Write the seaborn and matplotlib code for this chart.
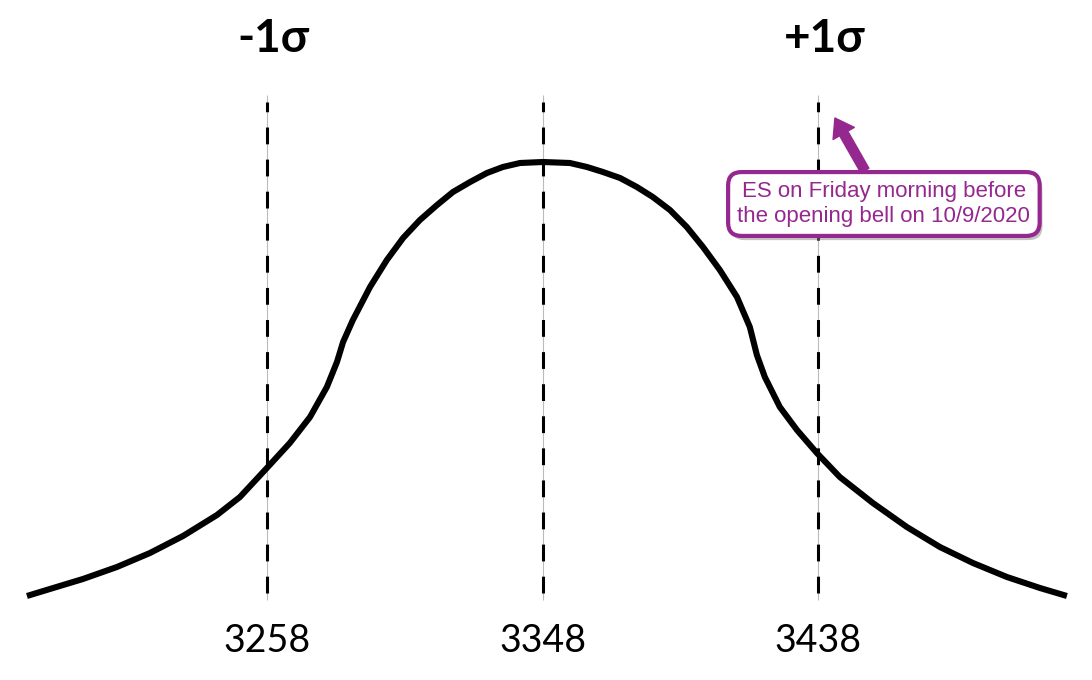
import numpy as np
import pandas as pd
import seaborn as sns
import matplotlib.pyplot as plt
import matplotlib.patheffects as pe

# curve (price vs relative height)
curve_x = [3179.4, 3186.9, 3197.7, 3208.8, 3219.6, 3230.4, 3241.5, 3249.0, 3257.8,
           3265.3, 3271.9, 3277.4, 3280.7, 3282.7, 3285.9, 3291.5, 3297.0, 3302.3,
           3307.8, 3313.4, 3318.6, 3324.2, 3329.7, 3334.9, 3340.5, 3348.0, 3356.8,
           3362.4, 3367.6, 3373.2, 3378.7, 3383.9, 3389.5, 3395.0, 3400.3, 3405.8,
           3411.4, 3415.6, 3417.9, 3420.5, 3425.4, 3431.0, 3437.5, 3445.0, 3455.8,
           3466.9, 3477.7, 3488.5, 3499.6, 3510.4, 3519.2]
curve_y = [4, 11, 21, 33, 47, 64, 85, 103, 132,
           157, 183, 213, 238, 258, 280, 313, 340, 362,
           380, 395, 408, 418, 427, 433, 437, 438, 437,
           433, 428, 422, 413, 403, 390, 373, 353, 330,
           303, 273, 245, 223, 193, 170, 147, 123, 97,
           73, 53, 37, 23, 12, 4]

sigma_x = [3258, 3348, 3438]
sigma_ticks = ["3258", "3348", "3438"]
sigma_names = {3258: "-1σ", 3438: "+1σ"}

note = "ES on Friday morning before\nthe opening bell on 10/9/2020"
note_at = (3443.4, 482)
note_box = (3459.4, 396)
purple = "#95288F"

sns.set_theme(style="white")
plt.rcParams['font.family'] = ['Lato', 'DejaVu Sans']
plt.rcParams['text.color'] = 'black'

df = pd.DataFrame({"price": curve_x, "height": curve_y})

fig = plt.figure(figsize=(10.92, 6.8), dpi=100)
ax = fig.add_axes([0, 0, 1, 1])

# sigma lines: thin grey line with black dashes on top
ax.vlines(sigma_x, 0, 505, color="#bbbbbb", lw=0.8, zorder=1)
ax.vlines(sigma_x, 7, 498, color="black", lw=2.2, linestyles=(0, (5.5, 5)), zorder=2)

sns.lineplot(data=df, x="price", y="height", color="black", lw=4.4, sort=False,
             ax=ax, zorder=3, solid_joinstyle="round", solid_capstyle="butt")

# labels
for x, lab in zip(sigma_x, sigma_ticks):
    ax.text(x, -41, lab, ha="center", va="center", fontsize=27, color="black")
for x, lab in sigma_names.items():
    ax.text(x + 2, 561, lab, ha="center", va="center", fontsize=33,
            fontweight="bold", color="black")

ann = ax.annotate(note, xy=note_at, xytext=note_box, ha="center", va="center",
                  fontsize=16, color=purple, family=['Liberation Sans', 'DejaVu Sans'],
                  linespacing=1.2,
                  bbox=dict(boxstyle="round,pad=0.42,rounding_size=0.6", fc="white",
                            ec=purple, lw=3),
                  arrowprops=dict(arrowstyle="simple,head_length=0.8,head_width=1.1,tail_width=0.42",
                                  color=purple, shrinkA=0, shrinkB=0))
ann.get_bbox_patch().set_path_effects([
    pe.SimplePatchShadow(offset=(2, -3), shadow_rgbFace="#888888", alpha=0.5),
    pe.Normal()])

ax.set_xlim(3170.6, 3527.4)
ax.set_ylim(-80, 600)
ax.axis("off")

fig.savefig("out.png", dpi=100, facecolor="white")
